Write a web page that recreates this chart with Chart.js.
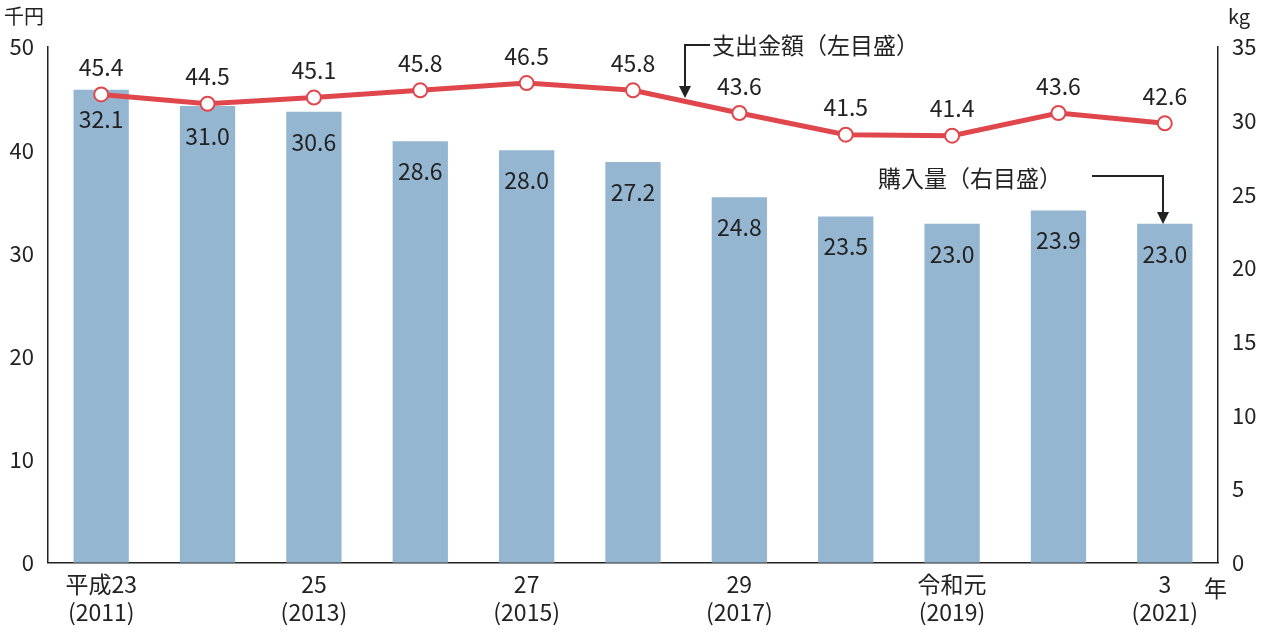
<!DOCTYPE html>
<html>
<head>
<meta charset="utf-8">
<script src="https://cdn.jsdelivr.net/npm/chart.js@4/dist/chart.umd.min.js"></script>
<style>
  body { margin: 0; background: #fff; }
  #wrap { width: 1264px; height: 636px; position: relative; }
</style>
</head>
<body>
<div id="wrap"><canvas id="c"></canvas></div>
<script>
// データ
var years = [["平成23", "(2011)"], "", ["25", "(2013)"], "", ["27", "(2015)"], "", ["29", "(2017)"], "", ["令和元", "(2019)"], "", ["3", "(2021)"]];
var spending = [45.4, 44.5, 45.1, 45.8, 46.5, 45.8, 43.6, 41.5, 41.4, 43.6, 42.6];   // 千円
var quantity = [32.1, 31.0, 30.6, 28.6, 28.0, 27.2, 24.8, 23.5, 23.0, 23.9, 23.0];   // kg
var leftTicks = [0, 10, 20, 30, 40, 50];
var rightTicks = [0, 5, 10, 15, 20, 25, 30, 35];

var FONT = "'Noto Sans CJK JP', 'Noto Sans', sans-serif";
var RED = "#e0474c";

// 数値ラベル・注記を描く
var labelPlugin = {
  id: "labels",
  afterDatasetsDraw: function (chart) {
    var ctx = chart.ctx;
    var x = chart.scales.x, yL = chart.scales.yL, yR = chart.scales.yR;
    ctx.save();
    ctx.font = "23px " + FONT;
    ctx.fillStyle = "#222";
    ctx.textAlign = "center";
    ctx.textBaseline = "middle";
    for (var i = 0; i < years.length; i++) {
      var px = x.getPixelForValue(i);
      ctx.fillText(quantity[i].toFixed(1), px, yR.getPixelForValue(quantity[i]) + 30);
      ctx.fillText(spending[i].toFixed(1), px, yL.getPixelForValue(spending[i]) - 27);
    }
    // 注記
    ctx.textAlign = "left";
    ctx.fillText("支出金額（左目盛）", 712, 45);
    ctx.fillText("購入量（右目盛）", 878, 178);
    ctx.strokeStyle = "#222";
    ctx.lineWidth = 2;
    ctx.beginPath();
    ctx.moveTo(710, 45); ctx.lineTo(685, 45); ctx.lineTo(685, 90);
    ctx.moveTo(1092, 176); ctx.lineTo(1163, 176); ctx.lineTo(1163, 216);
    ctx.stroke();
    ctx.fillStyle = "#222";
    ctx.beginPath();
    ctx.moveTo(679, 86); ctx.lineTo(691, 86); ctx.lineTo(685, 98); ctx.closePath();
    ctx.moveTo(1157, 212); ctx.lineTo(1169, 212); ctx.lineTo(1163, 224); ctx.closePath();
    ctx.fill();
    // 単位
    ctx.font = "20px " + FONT;
    ctx.fillText("千円", 4, 16);
    ctx.fillText("kg", 1228, 16);
    ctx.font = "23px " + FONT;
    ctx.fillText("年", 1204, 588);
    ctx.restore();
  }
};

new Chart(document.getElementById("c"), {
  data: {
    labels: years,
    datasets: [
      {
        type: "line", label: "支出金額", data: spending, yAxisID: "yL",
        borderColor: RED, borderWidth: 5, pointRadius: 7, pointBorderWidth: 2,
        pointBackgroundColor: "#fff", pointBorderColor: RED, tension: 0, order: 0
      },
      {
        type: "bar", label: "購入量", data: quantity, yAxisID: "yR",
        backgroundColor: "#95b6d1", categoryPercentage: 1, barPercentage: 0.52, order: 1
      }
    ]
  },
  plugins: [labelPlugin],
  options: {
    responsive: true, maintainAspectRatio: false, animation: false,
    layout: { padding: { top: 47, left: 0, right: 0, bottom: 2 } },
    plugins: { legend: { display: false }, tooltip: { enabled: false } },
    scales: {
      x: {
        grid: { display: false, drawTicks: false },
        border: { color: "#222", width: 1.5 },
        ticks: { color: "#222", font: { size: 23, family: FONT, lineHeight: 1.2 }, maxRotation: 0, autoSkip: false, padding: 8 }
      },
      yL: {
        position: "left", min: 0, max: 50,
        afterBuildTicks: function (s) { s.ticks = leftTicks.map(function (v) { return { value: v }; }); },
        afterFit: function (s) { s.width = 48; },
        grid: { display: false },
        border: { color: "#222", width: 1.5 },
        ticks: { color: "#222", font: { size: 22, family: FONT }, padding: 6 }
      },
      yR: {
        position: "right", min: 0, max: 35,
        afterBuildTicks: function (s) { s.ticks = rightTicks.map(function (v) { return { value: v }; }); },
        afterFit: function (s) { s.width = 46; },
        grid: { display: false },
        border: { color: "#222", width: 1.5 },
        ticks: { color: "#222", font: { size: 22, family: FONT }, padding: 6 }
      }
    }
  }
});
</script>
</body>
</html>
